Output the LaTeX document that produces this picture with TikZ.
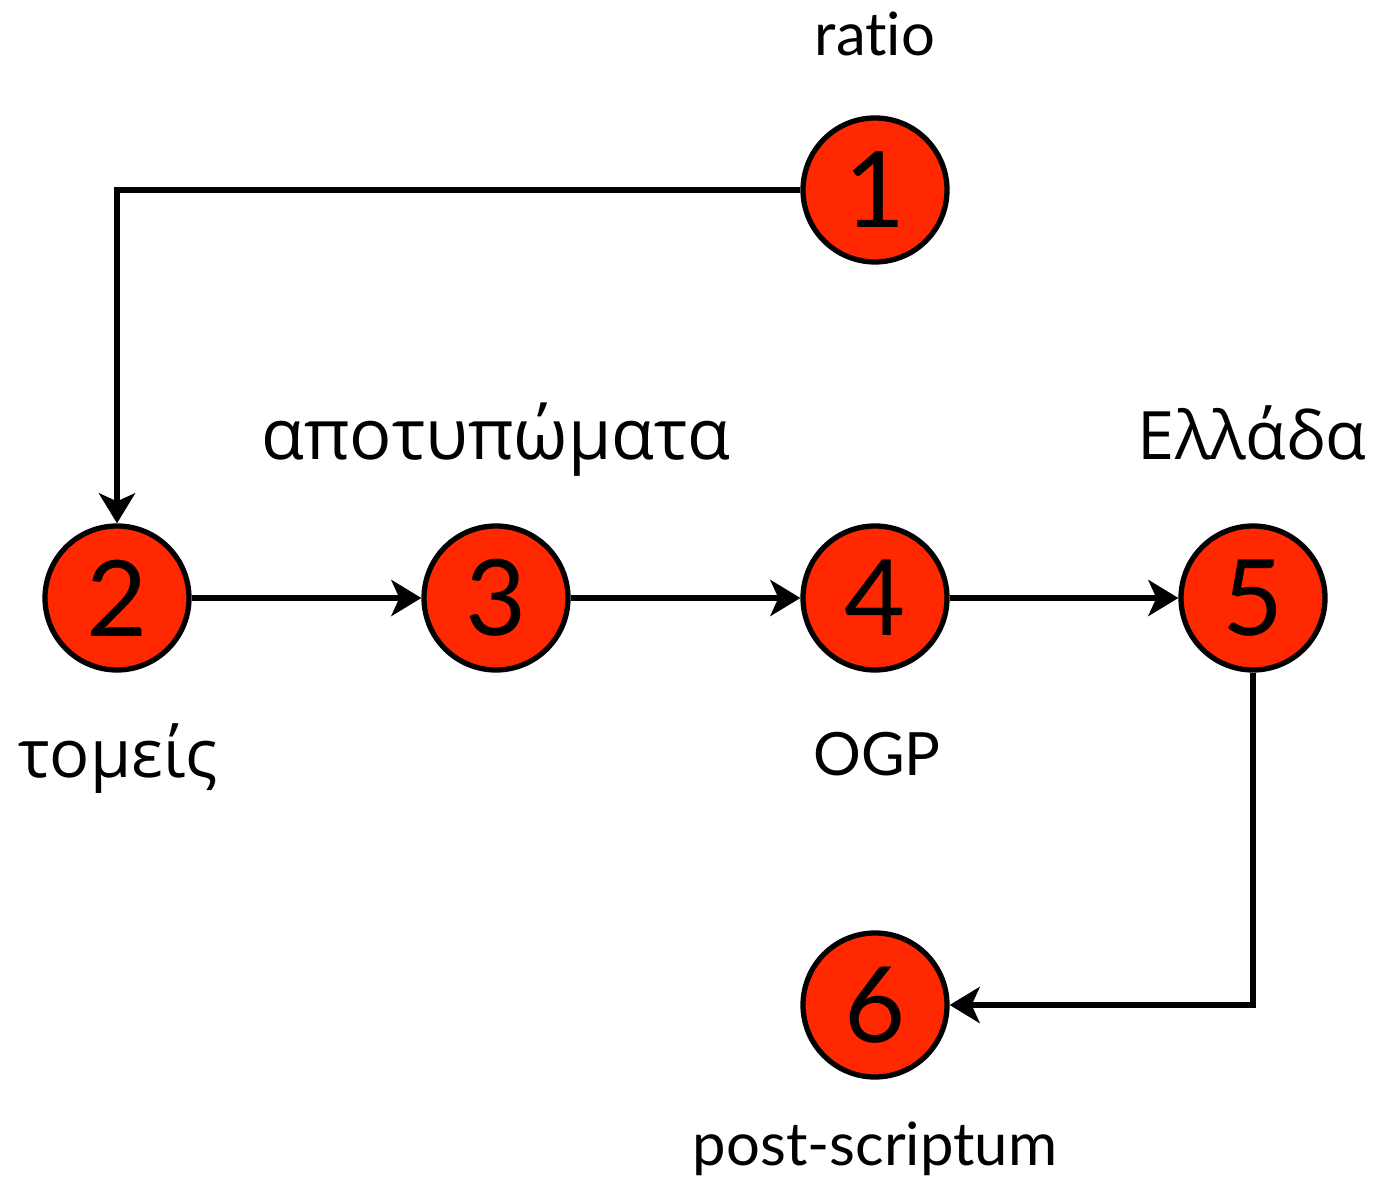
\documentclass[tikz,border=0pt]{standalone}
\usepackage{fontspec}
\setmainfont{Lato}[Ligatures=NoCommon]
\newfontfamily\greekfont{Open Sans}
\usepackage{xcolor}
\usetikzlibrary{arrows.meta}
\definecolor{nodered}{RGB}{255,40,0}

\begin{document}
\begin{tikzpicture}[
  stop/.style={circle, draw, line width=1.5pt, fill=nodered, minimum size=1.44cm,
    inner sep=0pt, font=\fontsize{30}{30}\selectfont},
  lbl/.style={anchor=base, font=\fontsize{17}{17}\selectfont},
  glbl/.style={anchor=base, font=\greekfont\fontsize{19}{19}\selectfont},
  link/.style={line width=1.7pt, line join=miter, -{Stealth[length=0.3cm, width=0.36cm, inset=0.08cm]}}]
\useasboundingbox (0,0) rectangle (13.78,11.84);
\node [stop] (n1) at (8.75,9.94) {1};
\node [stop] (n2) at (1.17,5.86) {2};
\node [stop] (n3) at (4.96,5.86) {3};
\node [stop] (n4) at (8.75,5.86) {4};
\node [stop] (n5) at (12.53,5.86) {5};
\node [stop] (n6) at (8.75,1.79) {6};
\node [lbl] (ratio) at (8.75,11.28) {ratio};
\node [glbl, font=\greekfont\fontsize{20}{20}\selectfont] (apot) at (4.96,7.24) {αποτυπώματα};
\node [glbl] (ellada) at (12.52,7.24) {Ελλάδα};
\node [glbl] (tomeis) at (1.18,4.06) {τομείς};
\node [lbl] (ogp) at (8.77,4.08) {OGP};
\node [lbl] (post) at (8.75,0.19) {post-scriptum};
\draw [link] (n1.west) -| (n2.north);
\draw [link] (n2) -- (n3);
\draw [link] (n3) -- (n4);
\draw [link] (n4) -- (n5);
\draw [link] (n5.south) |- (n6.east);
\end{tikzpicture}
\end{document}
